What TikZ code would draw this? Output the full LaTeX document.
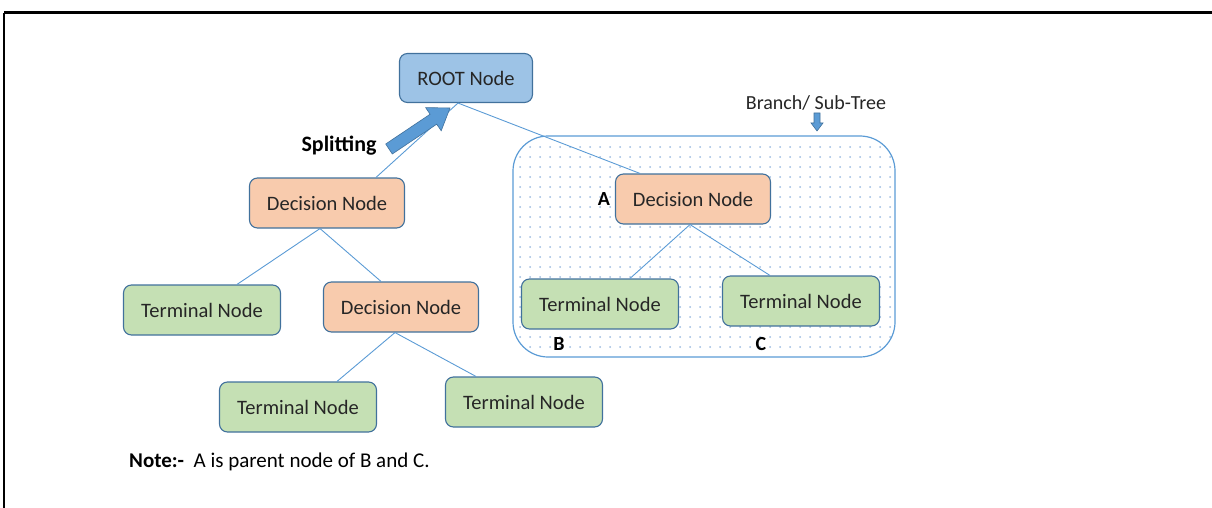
\documentclass[tikz,border=0pt]{standalone}
\usepackage{fontspec}
\setmainfont{Carlito}
\definecolor{rootblue}{HTML}{9DC3E6}
\definecolor{decorange}{HTML}{F8CBAD}
\definecolor{termgreen}{HTML}{C5E0B4}
\definecolor{edgeblue}{HTML}{41719C}
\definecolor{lineblue}{HTML}{5B9BD5}
\definecolor{dotblue}{HTML}{9BBBE0}
\tikzset{
  treebox/.style={draw=edgeblue,line width=1.1pt,rounded corners=8pt,inner sep=0pt,
    font=\fontsize{20.5}{24}\selectfont,text=black!85},
  rootbox/.style={treebox,fill=rootblue,minimum width=133pt,minimum height=49pt},
  decbox/.style={treebox,fill=decorange,minimum width=155pt,minimum height=50pt},
  termbox/.style={treebox,fill=termgreen,minimum width=157pt,minimum height=50pt},
  edge/.style={lineblue,line width=0.9pt},
  letter/.style={font=\fontsize{20}{24}\selectfont\bfseries}
}
\begin{document}
\begin{tikzpicture}[x=1pt,y=-1pt]
\useasboundingbox (0,0) rectangle (1212,508);
% frame
\draw[line width=3pt] (4,13) -- (1212,13);
\draw[line width=1.2pt] (4,13) -- (4,508);
% sub-tree box
\begin{scope}
\clip[rounded corners=35pt] (513,136) rectangle (895,357);
\foreach \x in {520,530,...,894} {
  \foreach \y in {147,157,...,356} {
    \fill[dotblue] (\x,\y) circle (1pt);
  }
}
\end{scope}
\draw[lineblue,line width=1.2pt,rounded corners=35pt] (513,136) rectangle (895,357);
% nodes
\node[rootbox] (root) at (466,78) {ROOT Node};
\node[decbox] (decl) at (327,203) {Decision Node};
\node[termbox] (terma) at (202,310) {Terminal Node};
\node[decbox] (decm) at (401,307) {Decision Node};
\node[termbox] (termb) at (298,407) {Terminal Node};
\node[termbox] (termc) at (524,402) {Terminal Node};
\node[decbox] (deca) at (693,199) {Decision Node};
\node[termbox] (termB) at (600,304) {Terminal Node};
\node[termbox] (termC) at (801,301) {Terminal Node};
% lines
\draw[edge] ([xshift=-8pt]root.south) -- ([xshift=49pt]decl.north);
\draw[edge] ([xshift=-8pt]root.south) -- ([xshift=-53pt]deca.north);
\draw[edge] ([xshift=-7pt]decl.south) -- ([xshift=35pt]terma.north);
\draw[edge] ([xshift=-7pt]decl.south) -- ([xshift=-20pt]decm.north);
\draw[edge] ([xshift=-6pt]decm.south) -- ([xshift=39pt]termb.north);
\draw[edge] ([xshift=-6pt]decm.south) -- ([xshift=-48pt]termc.north);
\draw[edge] ([xshift=-3pt]deca.south) -- ([xshift=30pt]termB.north);
\draw[edge] ([xshift=-3pt]deca.south) -- ([xshift=-31pt]termC.north);
% splitting arrow
\draw[edgeblue,fill=lineblue,line width=0.6pt] (385.7,144) -- (430.1,114.2) -- (425.6,107.6)
  -- (450,108) -- (441.2,130.8) -- (436.7,124.2) -- (392.3,154) -- cycle;
\node[letter,font=\fontsize{22}{26}\selectfont\bfseries] (split) at (339,146) {Splitting};
% branch arrow
\draw[edgeblue,fill=lineblue,line width=0.6pt] (814,113) -- (820,113) -- (820,123) -- (823,123)
  -- (817,131) -- (811,123) -- (814,123) -- cycle;
\node[font=\fontsize{20}{24}\selectfont,text=black!85] (branch) at (816,103) {Branch/ Sub-Tree};
% letters
\node[letter] (la) at (604,199) {A};
\node[letter] (lb) at (559,344) {B};
\node[letter] (lc) at (761,344) {C};
% note
\node[anchor=west,font=\fontsize{21}{25}\selectfont,inner sep=0pt] (note) at (129,462)
  {\textbf{Note:-}\ \ A is parent node of B and C.};
\end{tikzpicture}
\end{document}
